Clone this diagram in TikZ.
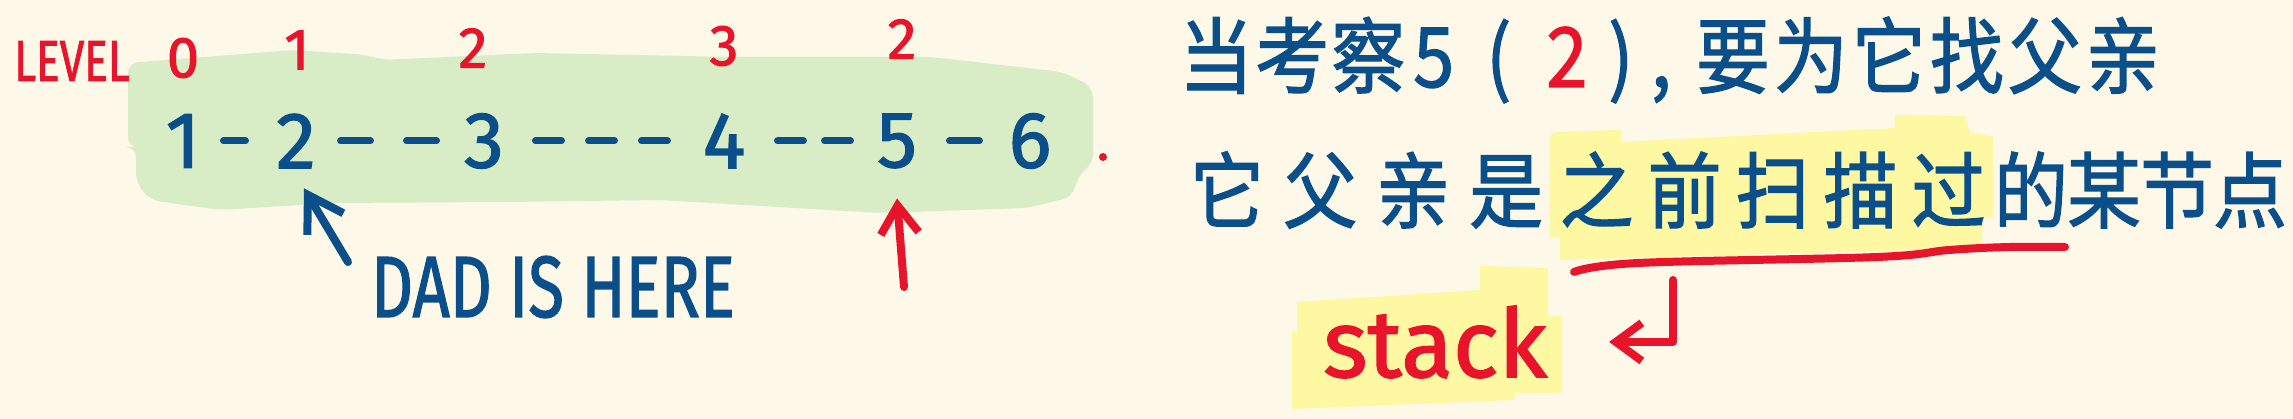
\documentclass[tikz,border=0pt]{standalone}
\usepackage{fontspec}
\setmainfont{Fira Sans}
\newfontfamily\pen{Fira Sans}[FakeBold=1.6]
\newfontfamily\cjk{Noto Sans CJK SC}[FakeBold=1.6]
\usetikzlibrary{arrows.meta,positioning,calc}
\definecolor{paper}{RGB}{253,248,231}
\definecolor{ink}{RGB}{11,79,138}
\definecolor{mk}{RGB}{232,20,43}
\definecolor{leaf}{RGB}{216,237,197}
\definecolor{hilite}{RGB}{254,248,163}
\newcommand{\wsp}[1]{\spaceskip=#1\relax}
\newcommand{\tallrow}[1]{\scalebox{1}[1.12]{#1}}
\tikzset{
  digit/.style={inner sep=0pt,text=ink,font=\pen\fontsize{80}{80}\selectfont},
  lvl/.style={inner sep=0pt,text=mk,font=\pen\fontsize{58}{58}\selectfont},
  note/.style={inner sep=0pt,anchor=west,text=ink,
    font=\cjk\fontsize{74}{74}\selectfont},
  link/.style={ink,line width=7pt,line cap=round},
  ptr/.style={-{Straight Barb[length=34pt,width=42pt]},ink,line width=8pt,
    line cap=round,line join=round},
  hl/.style={mk,line width=8pt,line cap=round,line join=round},
  hlarr/.style={hl,-{Straight Barb[length=#1pt,width=38pt]}},
}

\begin{document}
\begin{tikzpicture}[x=1pt,y=-1pt]
  \useasboundingbox (0,0) rectangle (2293,419);
  \fill[paper] (0,0) rectangle (2293,419);
  % marker strokes
  \fill[leaf,rounded corners=10pt] (128,63) -- (293,50) -- (367,55) -- (381,60)
    -- (535,53) -- (733,57) -- (931,57) -- (1063,72) -- (1093,87) -- (1093,165)
    -- (1080,172) -- (1072,197) -- (1027,208) -- (880,213) -- (660,200)
    -- (506,202) -- (330,203) -- (220,210) -- (150,200) -- (136,183)
    -- (136,147) -- (128,147) -- cycle;
  \fill[hilite] (1550,135) -- (1556,132) -- (1621,130) -- (1621,142) -- (1895,128)
    -- (1895,115) -- (1965,116) -- (1970,133) -- (1993,136) -- (1993,217)
    -- (1982,217) -- (1982,248) -- (1560,260) -- (1560,237) -- (1550,237) -- cycle;
  \fill[hilite] (1297,302) -- (1480,290) -- (1480,266) -- (1548,268) -- (1548,316)
    -- (1562,316) -- (1562,393) -- (1515,393) -- (1515,400) -- (1292,409)
    -- (1292,332) -- (1297,332) -- cycle;

  % levels
  \node[lvl,anchor=base] (lv) at (72,81) {\scalebox{.76}[1]{LEVEL}};
  \node[lvl] (l0) at (183,58) {0};
  \node[lvl] (l1) at (297,50) {1};
  \node[lvl] (l2) at (473,48) {2};
  \node[lvl] (l3) at (724,46) {3};
  \node[lvl] (l4) at (902,39) {2};

  % sequence
  \node[digit] (n1) at (183,141) {1};
  \node[digit] (n2) at (296,141) {2};
  \node[digit] (n3) at (484,141) {3};
  \node[digit] (n4) at (724,141) {4};
  \node[digit] (n5) at (897,141) {5};
  \node[digit] (n6) at (1030,141) {6};
  \fill[mk] (1103,157) circle (4);

  \draw[link,shorten <=40.5pt,shorten >=50.5pt] (n1.center) -- (n2.center);
  \draw[link,shorten <=44.5pt,shorten >=47.5pt,dash pattern=on 30pt off 36pt]
    (n2.center) -- (n3.center);
  \draw[link,shorten <=51.5pt,shorten >=56.5pt,dash pattern=on 26pt off 27pt]
    (n3.center) -- (n4.center);
  \draw[link,shorten <=53.5pt,shorten >=46.5pt,dash pattern=on 26pt off 21pt]
    (n4.center) -- (n5.center);
  \draw[link,shorten <=52.5pt,shorten >=50.5pt] (n5.center) -- (n6.center);

  % pointers
  \node[digit,anchor=base,font=\pen\fontsize{87}{87}\selectfont] (dad) at (553,317)
    {\scalebox{.75}[1]{DAD IS HERE}};
  \coordinate (dt) at (348,262);
  \draw[ptr] (dt) -- ($(n2.south)+(8,20)$);
  \coordinate (ut) at (904,287);
  \draw[hlarr=28] (ut) -- ($(n5.south)+(0,30)$);

  % text on the right
  \node[note] (q1) at (1179,60) {\tallrow{\wsp{2pt}当 考 察\hspace{8pt}5\hspace{32pt}(\hspace{35pt}\textcolor{mk}{2}\hspace{21pt})\hspace{17.5pt},\hspace{24.5pt}\wsp{4pt}要 为 它 找 父 亲}};
  \node[note] (p1) at (1190,190) {\tallrow{\wsp{19pt}它 父 亲 是}};
  \node[note,right=16pt of p1] (p2) {\tallrow{\wsp{14pt}之 前 扫 描 过}};
  \node[note,right=8pt of p2] (p3) {\tallrow{\wsp{-1pt}的 某 节 点}};
  \draw[hl] plot[smooth,tension=.6] coordinates {(1574,272) (1638,263) (1877,257)
    (1949,250) (2009,247) (2065,247)};

  \node[lvl,anchor=base,font=\pen\fontsize{95}{95}\selectfont] (stk) at (1435,377) {stack};
  \coordinate (hk) at (1673,280);
  \draw[hlarr=26] (hk) |- ([xshift=62pt]stk.east);
\end{tikzpicture}
\end{document}
